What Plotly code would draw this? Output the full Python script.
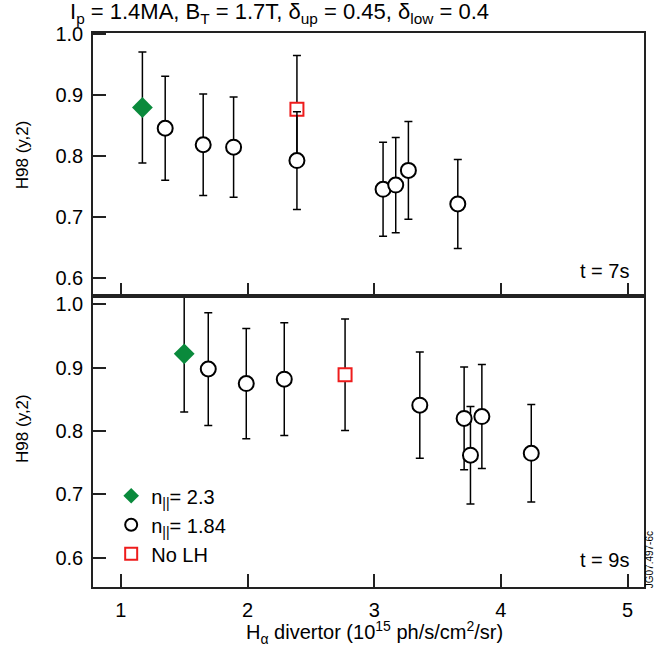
import plotly.graph_objects as go

# ---- data: t = 7 s (top panel) ----
t7_n23_x = [1.17]
t7_n23_y = [0.880]
t7_n23_err = [0.091]

t7_n184_x = [1.35, 1.65, 1.89, 2.39, 3.07, 3.17, 3.27, 3.66]
t7_n184_y = [0.846, 0.819, 0.815, 0.793, 0.746, 0.753, 0.777, 0.722]
t7_n184_err = [0.085, 0.083, 0.082, 0.080, 0.077, 0.078, 0.080, 0.073]

t7_nolh_x = [2.39]
t7_nolh_y = [0.877]
t7_nolh_err = [0.088]

# ---- data: t = 9 s (bottom panel) ----
t9_n23_x = [1.50]
t9_n23_y = [0.922]
t9_n23_err = [0.092]

t9_n184_x = [1.69, 1.99, 2.29, 3.36, 3.71, 3.76, 3.85, 4.24]
t9_n184_y = [0.898, 0.875, 0.882, 0.841, 0.820, 0.762, 0.823, 0.765]
t9_n184_err = [0.089, 0.087, 0.089, 0.084, 0.081, 0.077, 0.082, 0.077]

t9_nolh_x = [2.77]
t9_nolh_y = [0.889]
t9_nolh_err = [0.088]

x_ticks = [1, 2, 3, 4, 5]
y_ticks = [0.6, 0.7, 0.8, 0.9, 1.0]
y_tick_labels = ["0.6", "0.7", "0.8", "0.9", "1.0"]

FONT = "Liberation Sans, Arial, Helvetica, sans-serif"
GREEN = "#0a8a3c"
RED = "#ee1c1c"


def err(vals):
    return dict(type="data", array=vals, visible=True, color="black",
                thickness=1.5, width=4)


def add_panel(fig, xs, ys, es, yaxis, show):
    (n23x, n184x, nlx), (n23y, n184y, nly), (n23e, n184e, nle) = xs, ys, es
    xa = "x" if yaxis == "y" else "x2"
    fig.add_trace(go.Scatter(
        x=nlx, y=nly, error_y=err(nle), mode="markers", xaxis=xa, yaxis=yaxis,
        marker=dict(symbol="square", size=13, color="white",
                    line=dict(color=RED, width=2)),
        name="No LH", legendgroup="c", showlegend=show, legendrank=3))
    fig.add_trace(go.Scatter(
        x=n184x, y=n184y, error_y=err(n184e), mode="markers", xaxis=xa, yaxis=yaxis,
        marker=dict(symbol="circle", size=15, color="white",
                    line=dict(color="black", width=2)),
        name="n<sub>||</sub>= 1.84", legendgroup="b", showlegend=show, legendrank=2))
    fig.add_trace(go.Scatter(
        x=n23x, y=n23y, error_y=err(n23e), mode="markers", xaxis=xa, yaxis=yaxis,
        marker=dict(symbol="diamond", size=16, color=GREEN,
                    line=dict(color=GREEN, width=0)),
        name="n<sub>||</sub>= 2.3", legendgroup="a", showlegend=show, legendrank=1))


fig = go.Figure()
add_panel(fig, (t9_n23_x, t9_n184_x, t9_nolh_x), (t9_n23_y, t9_n184_y, t9_nolh_y),
          (t9_n23_err, t9_n184_err, t9_nolh_err), "y", True)
add_panel(fig, (t7_n23_x, t7_n184_x, t7_nolh_x), (t7_n23_y, t7_n184_y, t7_nolh_y),
          (t7_n23_err, t7_n184_err, t7_nolh_err), "y2", False)

axis_common = dict(showgrid=False, zeroline=False, showline=True, linecolor="#222",
                   linewidth=1.5, mirror=True, ticks="inside", ticklen=13,
                   tickwidth=1.5, tickcolor="#222",
                   tickfont=dict(size=20, color="black", family=FONT))

SPLIT = 0.525
fig.update_layout(
    width=656, height=654,
    margin=dict(l=93, r=10, t=33, b=67),
    paper_bgcolor="white", plot_bgcolor="white",
    font=dict(family=FONT, color="black"),
    xaxis=dict(range=[0.78, 5.13], tickvals=x_ticks, anchor="y",
               domain=[0, 1], ticklabelstandoff=4, **axis_common),
    xaxis2=dict(range=[0.78, 5.13], tickvals=x_ticks, anchor="y2", matches="x",
                showticklabels=False, domain=[0, 1], **axis_common),
    yaxis=dict(range=[0.554, 1.013], tickvals=y_ticks, ticktext=y_tick_labels,
               domain=[0, SPLIT], anchor="x", ticklabelstandoff=4, **axis_common),
    yaxis2=dict(range=[0.571, 1.002], tickvals=y_ticks, ticktext=y_tick_labels,
                domain=[SPLIT, 1], anchor="x2", ticklabelstandoff=4, **axis_common),
    showlegend=True,
    legend=dict(x=0.033, y=0.2, xanchor="left", yanchor="top",
                bgcolor="rgba(0,0,0,0)", tracegroupgap=0, traceorder="grouped",
                font=dict(size=20, family=FONT, color="black"),
                itemsizing="constant"),
)

ann = []
ann.append(dict(text="I<sub>p</sub> = 1.4MA, B<sub>T</sub> = 1.7T, δ<sub>up</sub> = 0.45, δ<sub>low</sub> = 0.4",
                xref="paper", yref="paper", x=-0.045, y=1.037, xanchor="left",
                yanchor="middle", showarrow=False, font=dict(size=22)))
ann.append(dict(text="t = 7s", xref="paper", yref="paper", x=0.977, y=0.571,
                xanchor="right", yanchor="middle", showarrow=False, font=dict(size=20)))
ann.append(dict(text="t = 9s", xref="paper", yref="paper", x=0.977, y=0.048,
                xanchor="right", yanchor="middle", showarrow=False, font=dict(size=20)))
ann.append(dict(text="H98 (y,2)", xref="paper", yref="paper", x=-0.129, y=0.781,
                textangle=-90, xanchor="center", yanchor="middle", showarrow=False,
                font=dict(size=17)))
ann.append(dict(text="H98 (y,2)", xref="paper", yref="paper", x=-0.129, y=0.287,
                textangle=-90, xanchor="center", yanchor="middle", showarrow=False,
                font=dict(size=17)))
ann.append(dict(text="H<sub>α</sub> divertor (10<sup>15</sup> ph/s/cm<sup>2</sup>/sr)",
                xref="paper", yref="paper", x=0.511, y=-0.083, xanchor="center",
                yanchor="middle", showarrow=False, font=dict(size=20)))
ann.append(dict(text="JG07.497-6c", xref="paper", yref="paper", x=1.009, y=0.05,
                textangle=-90, xanchor="center", yanchor="middle", showarrow=False,
                font=dict(size=10)))
fig.update_layout(annotations=ann)

fig.write_html("out.html", config={"displayModeBar": False},
               post_script="document.body.style.margin='0';")
